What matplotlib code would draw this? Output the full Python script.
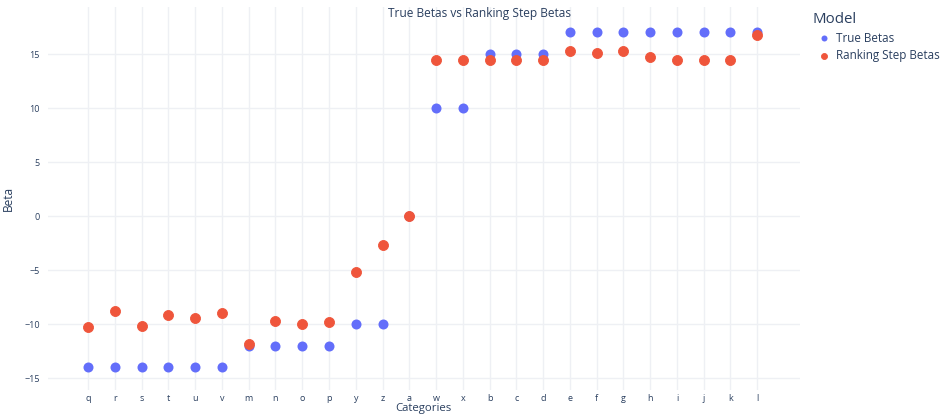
import matplotlib.pyplot as plt

plt.rcParams["font.family"] = ["Open Sans", "DejaVu Sans"]

categories = ["q", "r", "s", "t", "u", "v", "m", "n", "o", "p", "y", "z", "a",
              "w", "x", "b", "c", "d", "e", "f", "g", "h", "i", "j", "k", "l"]
true_betas = [-14, -14, -14, -14, -14, -14, -12, -12, -12, -12, -10, -10, 0,
              10, 10, 15, 15, 15, 17, 17, 17, 17, 17, 17, 17, 17]
ranking_betas = [-10.28, -8.8, -10.13, -9.2, -9.42, -8.95, -11.8, -9.67, -10.0, -9.79,
                 -5.19, -2.69, 0.0, 14.44, 14.44, 14.44, 14.44, 14.44, 15.3, 15.06,
                 15.28, 14.75, 14.44, 14.44, 14.44, 16.73]

text_color = "#2a3f5f"
grid_color = "#eef0f4"

fig = plt.figure(figsize=(9.43, 4.17), dpi=100)
ax = fig.add_axes([0.0509, 0.0647, 0.7975, 0.9185])

x = range(len(categories))
ax.scatter(x, true_betas, s=52, color="#636efa", label="True Betas", zorder=3, linewidths=0)
ax.scatter(x, ranking_betas, s=52, color="#EF553B", edgecolors="#EF553B", label="Ranking Step Betas",
           zorder=4, linewidths=0.6)

ax.set_xticks(list(x))
ax.set_xticklabels(categories)
ax.set_yticks([-15, -10, -5, 0, 5, 10, 15])
ax.set_yticklabels(["\u221215", "\u221210", "\u22125", "0", "5", "10", "15"])
ax.set_xlim(-1.5, 26.6)
ax.set_ylim(-16.1, 19.35)

ax.grid(True, color=grid_color, linewidth=1)
ax.set_axisbelow(True)
for sp in ax.spines.values():
    sp.set_visible(False)
ax.tick_params(axis="y", length=0, colors=text_color, labelsize=6.5, pad=6)
ax.tick_params(axis="x", length=0, colors=text_color, labelsize=6.5, pad=3)

ax.set_xlabel("Categories", color=text_color, fontsize=8.2)
ax.set_ylabel("Beta", color=text_color, fontsize=8.6)
ax.xaxis.set_label_coords(0.499, -0.035)
ax.yaxis.set_label_coords(-0.044, 0.5)
fig.text(0.509, 0.968, "True Betas vs Ranking Step Betas", ha="center", va="center",
         color=text_color, fontsize=8.6)

leg = ax.legend(title="Model", loc="upper left", bbox_to_anchor=(1.012, 0.995), frameon=False,
                fontsize=8.4, title_fontsize=10.8, handletextpad=0.05, markerscale=0.6,
                labelspacing=0.35, borderaxespad=0.0, borderpad=0.3)
leg._legend_box.align = "left"
leg.get_title().set_color(text_color)
for t in leg.get_texts():
    t.set_color(text_color)

fig.savefig("out.png", dpi=100)
